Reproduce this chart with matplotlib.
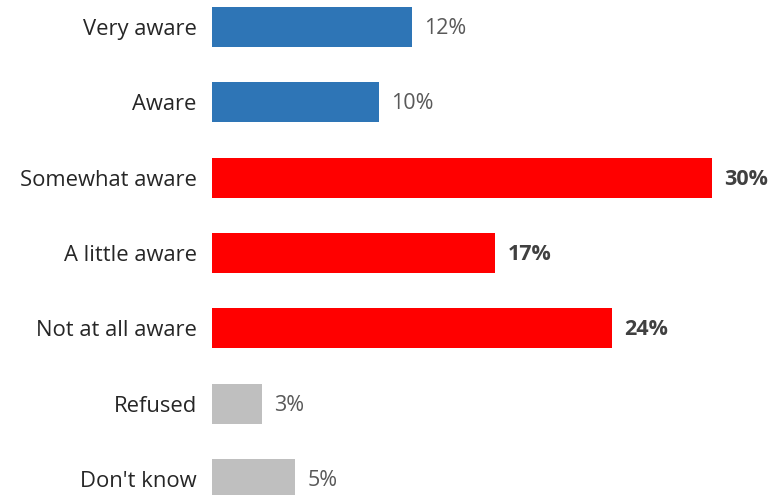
import matplotlib
matplotlib.use('Agg')
import matplotlib.pyplot as plt

categories = ['Very aware', 'Aware', 'Somewhat aware', 'A little aware',
              'Not at all aware', 'Refused', "Don't know"]
values = [12, 10, 30, 17, 24, 3, 5]
groups = ['aware', 'aware', 'unaware', 'unaware', 'unaware', 'other', 'other']

colors = {'aware': '#2E75B6', 'unaware': '#FF0000', 'other': '#BFBFBF'}

plt.rcParams['font.family'] = ['Open Sans', 'DejaVu Sans']

W, H = 776, 495
fig = plt.figure(figsize=(W / 100, H / 100), dpi=100)
ax = fig.add_axes([212 / W, 0, 1 - 212 / W, 1])

px_per_pct = 500 / 30
step = 75.33
ypos = list(range(len(categories)))
ax.barh(ypos, values, height=40 / step,
        color=[colors[g] for g in groups], edgecolor='none')

ax.set_xlim(0, (W - 212) / px_per_pct)
ax.set_ylim((H - 27) / step, -27 / step)

ax.set_yticks(ypos)
ax.set_yticklabels(categories, fontsize=15.8, color='#262626')
ax.tick_params(axis='y', length=0, pad=11)
ax.set_xticks([])
for s in ax.spines.values():
    s.set_visible(False)

for y, v, g in zip(ypos, values, groups):
    bold = g == 'unaware'
    ax.annotate(f'{v}%', (v, y), xytext=(9, -1), textcoords='offset points',
                va='center', ha='left', fontsize=15.5,
                fontweight='bold' if bold else 'normal',
                color='#404040' if bold else '#595959')

plt.savefig('out.png', dpi=100, facecolor='white')
